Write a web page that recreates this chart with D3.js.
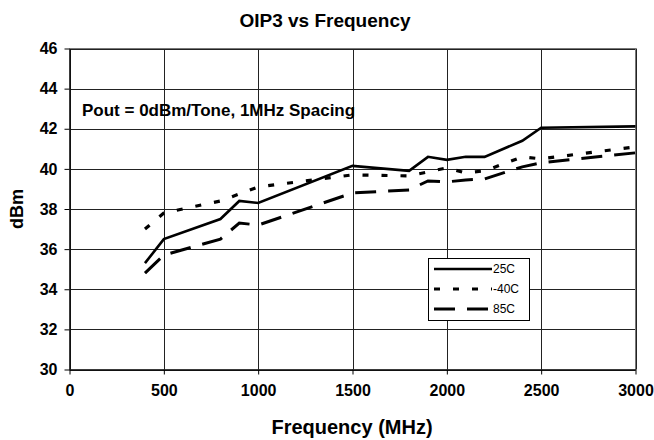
<!DOCTYPE html>
<html><head><meta charset="utf-8">
<script src="https://cdn.jsdelivr.net/npm/d3@7"></script>
<style>body{margin:0;background:#fff}svg text{font-family:Arial,"Liberation Sans",sans-serif}</style>
</head><body><svg id="c" width="654" height="440"></svg>
<script>
const xTicks=[0,500,1000,1500,2000,2500,3000];
const yTicks=[30,32,34,36,38,40,42,44,46];
const seriesNames=["25C","-40C","85C"];
const freq25=[400,500,800,900,1000,1500,1800,1900,2000,2100,2200,2400,2500,3000];
const val25=[35.3,36.5,37.5,38.4,38.3,40.15,39.9,40.6,40.45,40.6,40.6,41.4,42.05,42.12];
const freqM40=[400,500,800,1000,1500,1800,2000,2100,2200,2400,2500,3000];
const valM40=[37.0,37.8,38.4,39.1,39.7,39.65,40.05,39.8,39.9,40.6,40.5,41.1];
const freq85=[400,500,800,900,1000,1500,1800,1900,2000,2100,2200,2400,2500,3000];
const val85=[34.8,35.7,36.5,37.3,37.2,38.8,38.95,39.4,39.35,39.45,39.5,40.1,40.3,40.8];

const svg=d3.select("#c");
const L=69.5,R=635.5,T=48.5,B=369.5;
const x=d3.scaleLinear().domain([0,3000]).range([L,R]);
const y=d3.scaleLinear().domain([30,46]).range([B,T]);

svg.append("text").attr("x",325).attr("y",27).attr("text-anchor","middle")
  .attr("font-size",19).attr("font-weight","bold").text("OIP3 vs Frequency");

// grid
const g=svg.append("g");
g.selectAll(".hg").data(yTicks).join("line").attr("x1",L).attr("x2",R)
 .attr("y1",d=>Math.round(y(d))+0.5).attr("y2",d=>Math.round(y(d))+0.5).attr("stroke","#222").attr("stroke-width",1);
g.selectAll(".vg").data(xTicks).join("line").attr("y1",T).attr("y2",B)
 .attr("x1",d=>Math.round(x(d))+0.5).attr("x2",d=>Math.round(x(d))+0.5).attr("stroke","#222").attr("stroke-width",1);
g.append("rect").attr("x",L).attr("y",T).attr("width",R-L).attr("height",B-T).attr("fill","none").attr("stroke","#777");

// axes
const xa=svg.append("g").attr("transform",`translate(0,${B})`)
  .call(d3.axisBottom(x).tickValues(xTicks).tickSize(5).tickSizeOuter(0).tickPadding(10).tickFormat(d3.format("d")));
const ya=svg.append("g").attr("transform",`translate(${L},0)`)
  .call(d3.axisLeft(y).tickValues(yTicks).tickSize(5).tickSizeOuter(0).tickPadding(7).tickFormat(d3.format("d")));
[xa,ya].forEach(a=>{a.select(".domain").attr("stroke","#000");a.selectAll("line").attr("stroke","#000");
  a.selectAll("text").attr("font-size",16).attr("font-weight","bold").attr("fill","#000").attr("font-family","Arial,'Liberation Sans',sans-serif");});

svg.append("text").attr("x",352).attr("y",434).attr("text-anchor","middle")
  .attr("font-size",20).attr("font-weight","bold").text("Frequency (MHz)");
svg.append("text").attr("transform","translate(23,209) rotate(-90)").attr("text-anchor","middle")
  .attr("font-size",18).attr("font-weight","bold").text("dBm");
svg.append("text").attr("x",82).attr("y",116).attr("font-size",17).attr("font-weight","bold").text("Pout = 0dBm/Tone, 1MHz Spacing");

const line=d3.line().x(d=>x(d[0])).y(d=>y(d[1]));
const styles=[{w:2.6,dash:null},{w:3.2,dash:"6,13"},{w:3,dash:"21,12"}];
const data=[d3.zip(freq25,val25),d3.zip(freqM40,valM40),d3.zip(freq85,val85)];
data.forEach((d,i)=>{
  svg.append("path").datum(d).attr("d",line).attr("fill","none").attr("stroke","#000")
   .attr("stroke-width",styles[i].w).attr("stroke-dasharray",styles[i].dash);
});

// legend
const lg=svg.append("g");
lg.append("rect").attr("x",428.5).attr("y",258.5).attr("width",101).attr("height",62).attr("fill","#fff").attr("stroke","#000");
seriesNames.forEach((n,i)=>{
  const yy=269+i*20;
  lg.append("line").attr("x1",434).attr("x2",492).attr("y1",yy).attr("y2",yy).attr("stroke","#000")
   .attr("stroke-width",styles[i].w).attr("stroke-dasharray",styles[i].dash);
  lg.append("text").attr("x",493).attr("y",yy+4).attr("font-size",12).text(n);
});
</script></body></html>
